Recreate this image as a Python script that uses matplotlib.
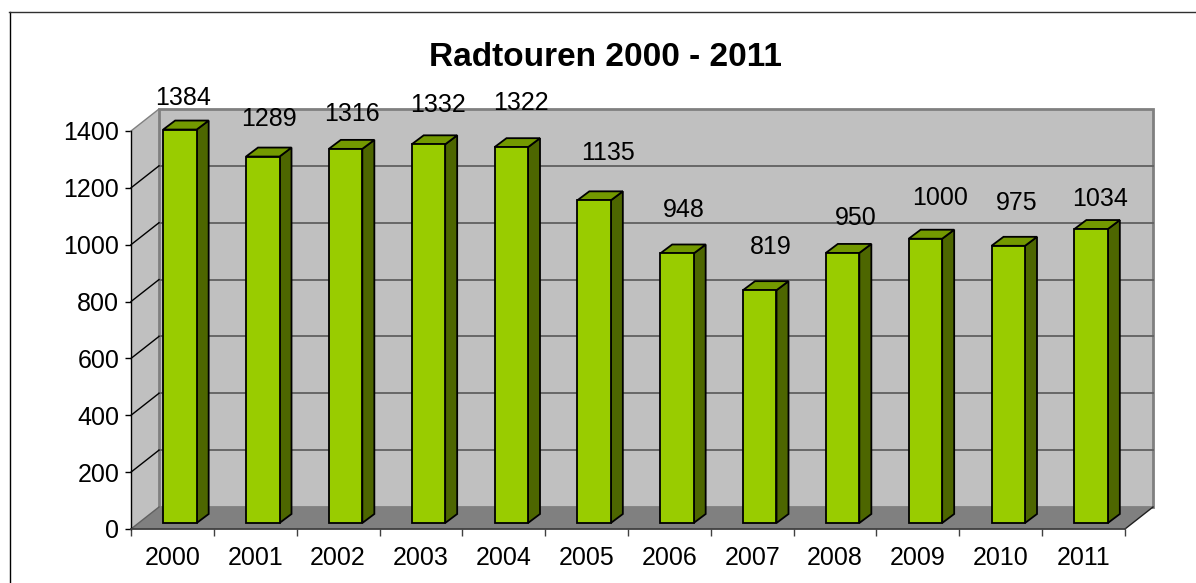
import matplotlib
matplotlib.use('Agg')
import matplotlib.pyplot as plt
from matplotlib.lines import Line2D
from matplotlib.patches import Polygon

years = ['2000', '2001', '2002', '2003', '2004', '2005', '2006', '2007', '2008', '2009', '2010', '2011']
tours = [1384, 1289, 1316, 1332, 1322, 1135, 948, 819, 950, 1000, 975, 1034]
y_ticks = [0, 200, 400, 600, 800, 1000, 1200, 1400]

# the value labels were placed by hand in the original, offsets in pixels from the slot centre / bar top
label_dx = [11, 14, 14, 17, 17, 21, 14, 19, 21, 22, 16, 16]
label_dy = [32, 38, 35, 39, 44, 47, 43, 43, 35, 41, 43, 30]

W, H = 1196, 583
plt.rcParams['font.family'] = ['Liberation Sans', 'DejaVu Sans']

fig = plt.figure(figsize=(W / 100, H / 100), dpi=100)
fig.patch.set_facecolor('white')
# outer frame, only left and top fall inside the picture
fig.add_artist(Line2D([9.5 / W, 9.5 / W], [0, 1 - 12 / H], transform=fig.transFigure, color='black', lw=1.0))
fig.add_artist(Line2D([9 / W, 1], [1 - 12 / H, 1 - 12 / H], transform=fig.transFigure, color='#303030', lw=1.0))

# front plane of the fake 3d box
left, right, top, bottom = 131, 1125, 131, 529
ax = fig.add_axes([left / W, 1 - bottom / H, (right - left) / W, (bottom - top) / H])
ax.set_xlim(-0.5, 11.5)
ax.set_ylim(0, 1400)
ax.patch.set_visible(False)
for s in ['top', 'right', 'bottom', 'left']:
    ax.spines[s].set_visible(False)

px = 12 / (right - left)      # data units per pixel
py = 1400 / (bottom - top)
dx, dy = 28 * px, 22 * py     # depth of the box

xl, xr = -0.5, 11.5
ax.add_patch(Polygon([(xl, 0), (xl + dx, dy), (xl + dx, 1400 + dy), (xl, 1400)], closed=True,
                     facecolor='#c0c0c0', edgecolor='none', clip_on=False, zorder=1))
ax.add_patch(Polygon([(xl + dx, dy), (xr + dx, dy), (xr + dx, 1400 + dy), (xl + dx, 1400 + dy)], closed=True,
                     facecolor='#c0c0c0', edgecolor='#808080', linewidth=2, clip_on=False, zorder=1))
ax.add_patch(Polygon([(xl, 0), (xr, 0), (xr + dx, dy), (xl + dx, dy)], closed=True,
                     facecolor='#808080', edgecolor='none', clip_on=False, zorder=2))

# gridlines, back wall and side wall
for t in y_ticks[1:-1]:
    ax.plot([xl + dx, xr + dx], [t + dy, t + dy], color='#606060', lw=1.3, clip_on=False, zorder=2)
for t in y_ticks[1:]:
    ax.plot([xl, xl + dx], [t, t + dy], color='black' if t < 1400 else '#808080', lw=1.0, clip_on=False, zorder=2)
ax.plot([xl, xl + dx], [0, dy], color='#606060', lw=1.0, clip_on=False, zorder=2)
ax.plot([xr, xr + dx], [0, dy], color='#202020', lw=1.0, clip_on=False, zorder=2)

# bars
bar_w = 33.5 * px
sx, sy = 7.5 * px, 6 * py     # bar front sits a bit into the floor
bx, by = 12 * px, 9 * py      # bar depth
for i, v in enumerate(tours):
    x0 = i + sx - bar_w / 2
    x1 = x0 + bar_w
    y0 = sy
    y1 = v + sy
    ax.bar(x0, v, width=bar_w, bottom=y0, align='edge', color='#99cc00', edgecolor='black',
           linewidth=1.3, clip_on=False, zorder=4)
    ax.add_patch(Polygon([(x1, y0), (x1 + bx, y0 + by), (x1 + bx, y1 + by), (x1, y1)], closed=True,
                         facecolor='#4d6600', edgecolor='black', linewidth=1.3, clip_on=False, zorder=3))
    ax.add_patch(Polygon([(x0, y1), (x1, y1), (x1 + bx, y1 + by), (x0 + bx, y1 + by)], closed=True,
                         facecolor='#739900', edgecolor='black', linewidth=1.3, clip_on=False, zorder=3))
    ax.annotate(str(v), (i, y1), xytext=(label_dx[i], label_dy[i]), textcoords='offset pixels',
                ha='center', va='center', fontsize=18, color='black', zorder=6, annotation_clip=False)

ax.set_xticks([x - 0.5 for x in range(13)])
ax.set_xticklabels([])
ax.set_xticks(range(12), minor=True)
ax.set_xticklabels(years, minor=True, fontsize=18)
ax.tick_params(axis='x', which='major', length=5, width=1.0, color='#404040')
ax.tick_params(axis='x', which='minor', length=0, pad=12.5)
ax.set_yticks(y_ticks)
ax.set_yticklabels([str(t) for t in y_ticks], fontsize=18)
ax.tick_params(axis='y', length=4.5, width=1.0, color='black', pad=4)
ax.spines['left'].set_visible(True)
ax.spines['left'].set_linewidth(1.0)
ax.spines['bottom'].set_visible(True)
ax.spines['bottom'].set_color('#404040')
ax.spines['bottom'].set_linewidth(1.3)

fig.text(605 / W, 1 - 57 / H, 'Radtouren 2000 - 2011', ha='center', va='center', fontsize=24,
         fontweight='bold', color='black')

fig.savefig('out.png', dpi=100)
